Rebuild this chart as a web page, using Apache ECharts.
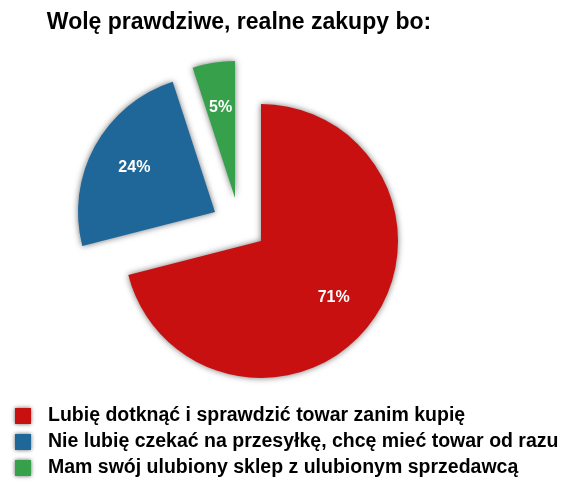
<!DOCTYPE html>
<html>
<head>
<meta charset="utf-8">
<script src="https://cdn.jsdelivr.net/npm/echarts@6/dist/echarts.min.js"></script>
<style>html,body{margin:0;padding:0;background:#fff}#c{width:569px;height:486px}</style>
</head>
<body>
<div id="c"></div>
<script>
var titleText = 'Wolę prawdziwe, realne zakupy bo:';
var categories = ['Lubię dotknąć i sprawdzić towar zanim kupię', 'Nie lubię czekać na przesyłkę, chcę mieć towar od razu', 'Mam swój ulubiony sklep z ulubionym sprzedawcą'];
var values = [71, 24, 5];
var colors = ['#c81010', '#1f6699', '#36a04a'];
var centers = [[261, 241], [215, 212], [235, 198]];

var chart = echarts.init(document.getElementById('c'), null, {renderer: 'canvas'});
var R = 137;
var FONT = 'Liberation Sans, Arial, sans-serif';
var series = [];
function slices(idx, forLabel) {
  return values.map(function (v, j) {
    var own = j === idx;
    return {
      name: (own && !forLabel) ? categories[j] : categories[j] + ' #' + idx + (forLabel ? 'L' : ''),
      value: v,
      itemStyle: own && !forLabel ? {color: colors[j], shadowBlur: 6, shadowColor: 'rgba(0,0,0,0.55)'} : {color: 'rgba(0,0,0,0)'},
      label: {show: own && forLabel}
    };
  });
}
for (var i = 0; i < values.length; i++) {
  series.push({
    type: 'pie', center: centers[i], radius: [0, R], startAngle: 90, clockwise: true,
    silent: true, avoidLabelOverlap: false,
    label: {show: false}, labelLine: {show: false},
    emphasis: {disabled: true},
    data: slices(i, false)
  });
}
for (var k = 0; k < values.length; k++) {
  series.push({
    type: 'pie', center: centers[k], radius: [41, R], startAngle: 90, clockwise: true,
    silent: true, avoidLabelOverlap: false,
    label: {position: 'inside', formatter: '{d}%', color: '#fff', fontWeight: 'bold', fontSize: 16, fontFamily: FONT},
    labelLine: {show: false},
    emphasis: {disabled: true},
    data: slices(k, true)
  });
}

chart.setOption({
  animation: false,
  title: {
    text: titleText, left: 234, textAlign: 'center', top: 6,
    textStyle: {fontSize: 23, fontWeight: 'bold', color: '#000', fontFamily: FONT}
  },
  legend: {
    orient: 'vertical', left: 15, top: 406, padding: 0, itemWidth: 16, itemHeight: 16, itemGap: 6,
    icon: 'rect', selectedMode: false,
    data: categories.map(function (c, j) { return {name: c, itemStyle: {color: colors[j], shadowBlur: 4, shadowColor: 'rgba(0,0,0,0.6)'}}; }),
    textStyle: {fontSize: 19.5, fontWeight: 'bold', color: '#000', fontFamily: FONT, padding: [0, 0, 0, 12]}
  },
  series: series
});
</script>
</body>
</html>
